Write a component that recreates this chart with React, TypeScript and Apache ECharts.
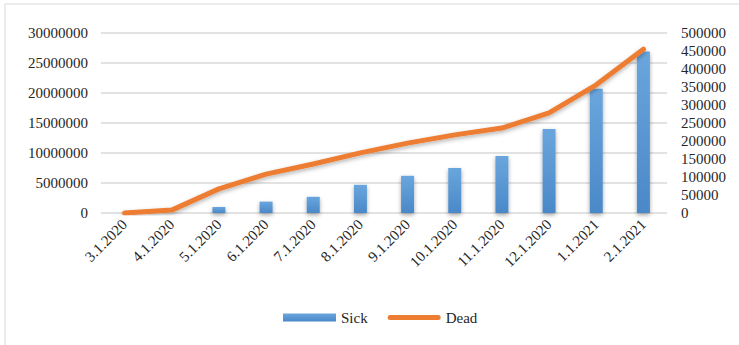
import React, { useEffect, useRef } from "react";
import * as echarts from "echarts";

const categories = [
  "3.1.2020", "4.1.2020", "5.1.2020", "6.1.2020", "7.1.2020", "8.1.2020",
  "9.1.2020", "10.1.2020", "11.1.2020", "12.1.2020", "1.1.2021", "2.1.2021",
];
const sick = [0, 0, 1000000, 1900000, 2700000, 4700000, 6200000, 7500000, 9500000, 14000000, 20700000, 26900000];
const dead = [0, 8000, 67000, 108000, 136000, 167000, 194000, 217000, 236000, 278000, 356000, 455000];
const leftTicks = { min: 0, max: 30000000, interval: 5000000 };
const rightTicks = { min: 0, max: 500000, interval: 50000 };

const FONT = "'Liberation Serif', 'Times New Roman', serif";
const TEXT = "#262626";
const LINE_ICON = "path://M2.5,0 L50.5,0 A2.5,2.5 0 0 1 50.5,5 L2.5,5 A2.5,2.5 0 0 1 2.5,0 Z";

export default function App() {
  const ref = useRef<HTMLDivElement>(null);
  useEffect(() => {
    const chart = echarts.init(ref.current!, null, { renderer: "svg" });
    chart.setOption({
      animation: false,
      textStyle: { fontFamily: FONT, color: TEXT },
      grid: { left: 101, right: 72, top: 33, bottom: 132 },
      graphic: [
        {
          type: "rect",
          shape: { x: 5, y: 4, width: 800, height: 400 },
          style: { fill: "none", stroke: "#d9d9d9", lineWidth: 1 },
          silent: true,
        },
      ],
      legend: {
        left: 278,
        top: 305,
        itemGap: 20,
        itemWidth: 53,
        itemHeight: 8,
        textStyle: { fontFamily: FONT, fontSize: 15, color: TEXT },
        data: [
          { name: "Sick", icon: "rect" },
          { name: "Dead", icon: LINE_ICON, itemStyle: { color: "#ED7D31" } },
        ],
      },
      xAxis: {
        type: "category",
        data: categories,
        axisLine: { show: false },
        axisTick: { show: false },
        axisLabel: {
          rotate: 45,
          margin: 9,
          fontFamily: FONT,
          fontSize: 15,
          color: TEXT,
          interval: 0,
        },
      },
      yAxis: [
        {
          type: "value",
          ...leftTicks,
          axisLine: { show: false },
          axisTick: { show: false },
          axisLabel: {
            margin: 13,
            fontFamily: FONT,
            fontSize: 15,
            color: TEXT,
            formatter: (v: number) => String(v),
          },
          splitLine: { lineStyle: { color: "#d9d9d9", width: 1.5 } },
        },
        {
          type: "value",
          ...rightTicks,
          position: "right",
          axisLine: { show: false },
          axisTick: { show: false },
          axisLabel: {
            margin: 14,
            fontFamily: FONT,
            fontSize: 15,
            color: TEXT,
            formatter: (v: number) => String(v),
          },
          splitLine: { show: false },
        },
      ],
      series: [
        {
          name: "Sick",
          type: "bar",
          data: sick,
          yAxisIndex: 0,
          barWidth: 13,
          itemStyle: {
            color: new echarts.graphic.LinearGradient(0, 0, 0, 1, [
              { offset: 0, color: "#6aa6dd" },
              { offset: 1, color: "#4a88c8" },
            ]),
            shadowColor: "rgba(0,0,0,0.35)",
            shadowBlur: 4,
            shadowOffsetY: 2,
          },
        },
        {
          name: "Dead",
          type: "line",
          data: dead,
          yAxisIndex: 1,
          symbol: "none",
          lineStyle: {
            color: "#ED7D31",
            width: 5,
            cap: "round",
            join: "round",
            shadowColor: "rgba(0,0,0,0.3)",
            shadowBlur: 4,
            shadowOffsetY: 2,
          },
          itemStyle: { color: "#ED7D31" },
        },
      ],
    });
    return () => chart.dispose();
  }, []);
  return (
    <div
      ref={ref}
      style={{ position: "absolute", left: 0, top: 0, width: 739, height: 345, background: "#fff" }}
    />
  );
}
